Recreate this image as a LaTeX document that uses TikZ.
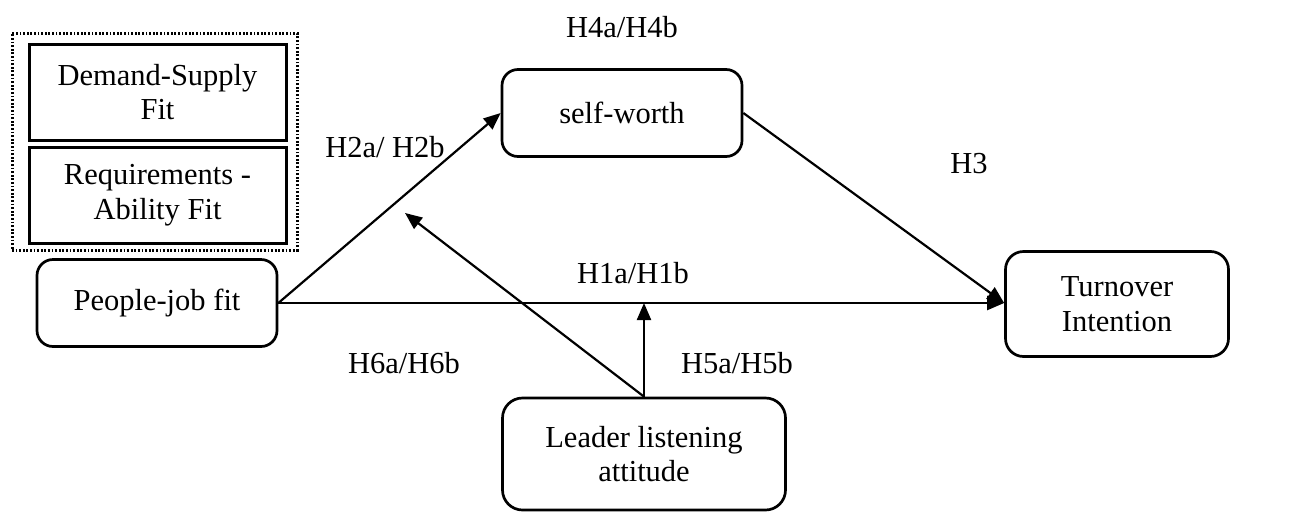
\documentclass[tikz,border=0pt]{standalone}
\usepackage{fontspec}
\setmainfont{Liberation Serif}
\usetikzlibrary{arrows.meta}
\begin{document}
\begin{tikzpicture}[x=1pt,y=-1pt,
  every node/.style={font=\fontsize{30.5}{34.5}\selectfont},
  frame/.style={draw, line width=3pt, dash pattern=on 1.8pt off 1.8pt,
    minimum width=285pt, minimum height=217pt, inner sep=0pt},
  plainbox/.style={draw, line width=3pt, minimum width=257pt,
    minimum height=96pt, align=center, inner sep=0pt},
  roundbox/.style={draw, line width=2.7pt, rounded corners=16pt,
    align=center, inner sep=0pt},
  hyp/.style={anchor=base},
  link/.style={line width=2.2pt, -{Triangle[length=17pt,width=14pt]}}
]
\useasboundingbox (0,0) rectangle (1290,512);

% dimensions of person-job fit
\node[frame] (dims) at (154.5,141.5) {};
\node[plainbox] (ds) at (157.5,92) {Demand-Supply\\Fit};
\node[plainbox] (ra) at (157.5,195) {Requirements -\\Ability Fit};

% constructs
\node[roundbox, minimum width=240pt, minimum height=87pt] (pj) at (157,303) {People-job fit};
\node[roundbox, minimum width=240pt, minimum height=87pt] (sw) at (622,113) {self-worth};
\node[roundbox, minimum width=223pt, minimum height=105pt, rounded corners=18pt] (ti) at (1117,304) {Turnover\\Intention};
\node[roundbox, minimum width=283pt, minimum height=112pt, rounded corners=20pt] (ll) at (644,454) {Leader listening\\attitude};

% moderation target on the H2 path
\coordinate (m2) at (405,213);

% paths
\draw[link] (pj.east) -- (sw.west);
\draw[link] (pj.east) -- (pj.east -| ti.west);
\draw[link] (sw.east) -- (pj.east -| ti.west);
\draw[link] (ll.north) -- (ll.north |- pj.east);
\draw[link] (ll.north) -- (m2);

% hypothesis labels
\node[hyp] (h4) at (622,37) {H4a/H4b};
\node[hyp] (h2) at (385,157) {H2a/ H2b};
\node[hyp] (h3) at (969,173) {H3};
\node[hyp] (h1) at (633,283) {H1a/H1b};
\node[hyp] (h6) at (404,373) {H6a/H6b};
\node[hyp] (h5) at (737,373) {H5a/H5b};
\end{tikzpicture}
\end{document}
